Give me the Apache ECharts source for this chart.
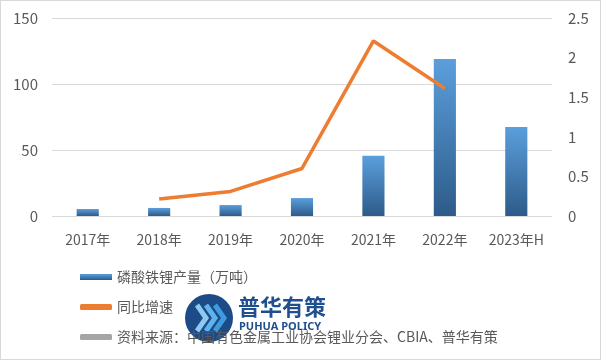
<!DOCTYPE html>
<html>
<head>
<meta charset="utf-8">
<script src="https://cdn.jsdelivr.net/npm/echarts@6/dist/echarts.min.js"></script>
<style>
html,body{margin:0;padding:0;background:#fff;}
#c{width:601px;height:360px;box-sizing:border-box;border:1px solid #d9d9d9;}
</style>
</head>
<body>
<div id="c"></div>
<script>
const categories = ['2017年','2018年','2019年','2020年','2021年','2022年','2023年H'];
const production = [5.3, 6.1, 8.3, 13.6, 45.7, 119, 67.4];
const growth = [null, 0.215, 0.31, 0.60, 2.21, 1.61, null];
const leftTicks = {min:0, max:150, interval:50};
const rightTicks = {min:0, max:2.5, interval:0.5};
const seriesNames = ['磷酸铁锂产量（万吨）','同比增速','资料来源：中国有色金属工业协会锂业分会、CBIA、普华有策'];

const chart = echarts.init(document.getElementById('c'));
const font = '"Noto Sans CJK SC", "Noto Sans", sans-serif';
chart.setOption({
  animation:false,
  textStyle:{fontFamily:font},
  grid:{left:51, right:48, top:17, bottom:143},
  legend:{
    orient:'vertical', left:79, top:269, itemGap:16, padding:0,
    itemWidth:32, itemHeight:6,
    textStyle:{color:'#595959', fontSize:14, fontFamily:font},
    data:[
      {name:seriesNames[0], icon:'rect'},
      {name:seriesNames[1], icon:'roundRect', itemStyle:{color:'#ed7d31'}},
      {name:seriesNames[2], icon:'roundRect', itemStyle:{color:'#a5a5a5'}}
    ]
  },
  xAxis:{
    type:'category', data:categories,
    axisLine:{show:false}, axisTick:{show:false},
    axisLabel:{color:'#595959', fontSize:14, margin:17, interval:0}
  },
  yAxis:[
    {type:'value', ...leftTicks, position:'left',
     axisLine:{show:false}, axisTick:{show:false},
     axisLabel:{color:'#595959', fontSize:15, margin:14},
     splitLine:{lineStyle:{color:'#d9d9d9', width:1}}},
    {type:'value', ...rightTicks, position:'right',
     axisLine:{show:false}, axisTick:{show:false},
     axisLabel:{color:'#595959', fontSize:15, margin:16},
     splitLine:{show:false}}
  ],
  series:[
    {name:seriesNames[0], type:'bar', data:production, barWidth:'31%',
     itemStyle:{color:new echarts.graphic.LinearGradient(0,0,0,1,[
       {offset:0,color:'#5b9fdc'},{offset:1,color:'#2d5b89'}])}},
    {name:seriesNames[1], type:'line', yAxisIndex:1, data:growth,
     symbol:'none', lineStyle:{color:'#ed7d31', width:3.5}, itemStyle:{color:'#ed7d31'}},
    {name:seriesNames[2], type:'line', yAxisIndex:1, data:[],
     symbol:'none', lineStyle:{color:'#a5a5a5', width:3.5}, itemStyle:{color:'#a5a5a5'}}
  ],
  graphic:[
    {type:'group', left:184, top:293, children:[
      {type:'circle', shape:{cx:24, cy:25, r:24}, style:{fill:'#1c4b87'}},
      {type:'polyline', shape:{points:[[12,12],[21,25],[12,38]]}, style:{stroke:'#8ec9f0', lineWidth:5, fill:null}},
      {type:'polyline', shape:{points:[[21,12],[30,25],[21,38]]}, style:{stroke:'#5fb3ea', lineWidth:5, fill:null}},
      {type:'polyline', shape:{points:[[30,12],[39,25],[30,38]]}, style:{stroke:'#3d9be0', lineWidth:5, fill:null}}
    ]},
    {type:'text', left:237, top:295, style:{text:'普华有策', fill:'#1f4f8f', font:'bold 22px "Noto Sans CJK SC", sans-serif'}},
    {type:'text', left:238, top:320, style:{text:'PUHUA POLICY', fill:'#1f4f8f', font:'bold 11px "Noto Sans", sans-serif'}}
  ]
});
</script>
</body>
</html>
